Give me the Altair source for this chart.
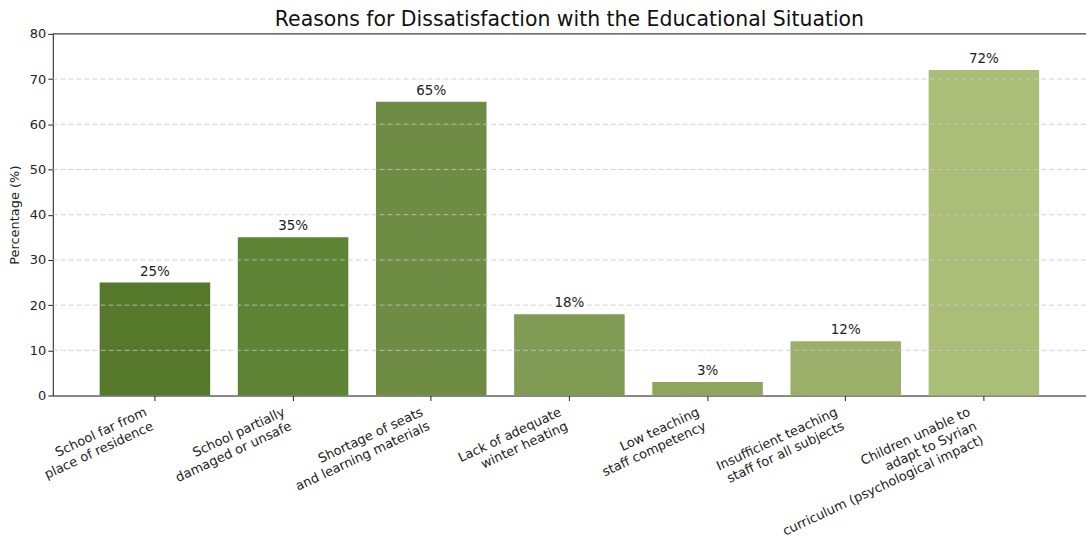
import altair as alt
import pandas as pd

categories = [
    "School far from\nplace of residence",
    "School partially\ndamaged or unsafe",
    "Shortage of seats\nand learning materials",
    "Lack of adequate\nwinter heating",
    "Low teaching\nstaff competency",
    "Insufficient teaching\nstaff for all subjects",
    "Children unable to\nadapt to Syrian\ncurriculum (psychological impact)",
]
values = [25, 35, 65, 18, 3, 12, 72]
colors = ["#55782a", "#5f8334", "#6f8c45", "#7f9b54", "#8da65c", "#9caf6a", "#abbe78"]
labels = [f"{v}%" for v in values]
grid_values = [10, 20, 30, 40, 50, 60, 70]
y_ticks = list(range(0, 81, 10))

df = pd.DataFrame({"cat": categories, "val": values, "lab": labels})
gdf = pd.DataFrame({"g": grid_values})
one = pd.DataFrame({"k": [0]})

FONT = "DejaVu Sans"

x = alt.X(
    "cat:N",
    sort=None,
    scale=alt.Scale(paddingInner=0.2, paddingOuter=0.339, round=False),
    axis=alt.Axis(
        title=None,
        labelAngle=-25,
        labelAlign="right",
        labelBaseline="top",
        labelExpr="split(datum.label, '\\n')",
        labelLineHeight=15.5,
        labelFontSize=13,
        labelFont=FONT,
        labelColor="#222",
        labelLimit=400,
        labelPadding=5,
        labelOffset={
            "condition": {"test": "indexof(datum.value, 'curriculum') >= 0", "value": -17},
            "value": -11.5,
        },
        tickSize=5,
        tickColor="#222",
        domainColor="#222",
        grid=False,
    ),
)

yscale = alt.Scale(domain=[0, 80], nice=False)

bars = alt.Chart(df).mark_bar().encode(
    x=x,
    y=alt.Y(
        "val:Q",
        scale=yscale,
        axis=alt.Axis(
            title="Percentage (%)",
            titleFont=FONT,
            titleFontSize=13,
            titleFontWeight="normal",
            titleColor="#222",
            titlePadding=8,
            values=y_ticks,
            labelFont=FONT,
            labelFontSize=13,
            labelColor="#222",
            tickSize=5,
            tickColor="#222",
            domainColor="#222",
            grid=False,
        ),
    ),
    color=alt.Color(
        "cat:N", sort=None, scale=alt.Scale(domain=categories, range=colors), legend=None
    ),
)

grid = alt.Chart(gdf).mark_rule(
    color="#c8c8c8", strokeDash=[5, 3], strokeWidth=1, opacity=0.8
).encode(y=alt.Y("g:Q", scale=yscale))

top_spine = alt.Chart(one).mark_rule(color="#222", strokeWidth=1).encode(y=alt.value(0))

text = alt.Chart(df).mark_text(
    baseline="bottom", dy=-4, fontSize=13.5, font=FONT, color="#222"
).encode(x=alt.X("cat:N", sort=None), y="val:Q", text="lab:N")

chart = (
    alt.layer(bars, grid, top_spine, text)
    .properties(
        width=1037,
        height=363,
        title=alt.TitleParams(
            "Reasons for Dissatisfaction with the Educational Situation",
            font=FONT,
            fontSize=20.5,
            fontWeight="normal",
            color="#111",
            anchor="middle",
            offset=-3,
        ),
        autosize=alt.AutoSizeParams(type="none"),
        padding={"left": 53, "top": 33, "right": 0, "bottom": 140},
    )
    .configure_view(stroke=None)
    .configure(background="white")
)

chart.save("out.html", embed_options={"renderer": "svg", "actions": False})
